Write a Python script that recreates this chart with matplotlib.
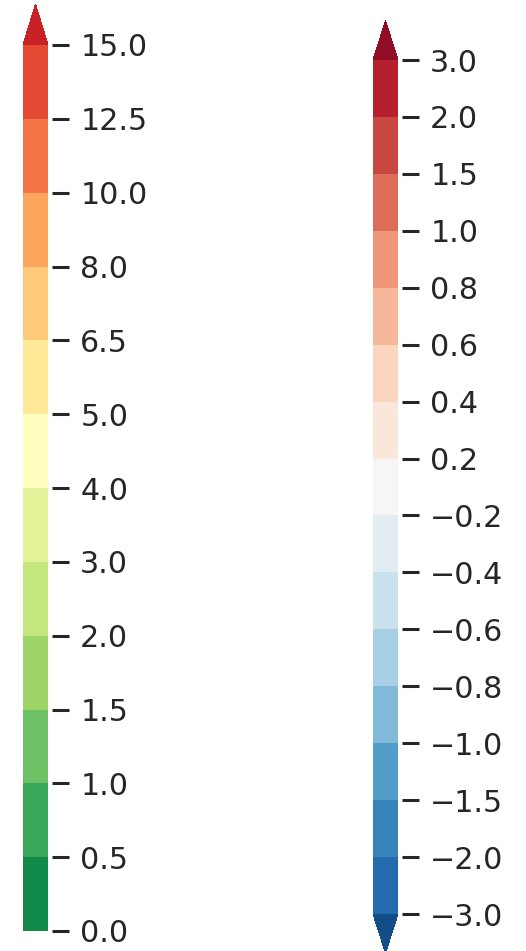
import matplotlib
matplotlib.use("Agg")
import matplotlib.pyplot as plt
import matplotlib as mpl
import seaborn as sns
from matplotlib.colors import ListedColormap, BoundaryNorm

sns.set_theme(style="white")
plt.rcParams["font.family"] = ["DejaVu Sans"]

# ── data ─────────────────────────────────────────────
left_bounds = [0.0, 0.5, 1.0, 1.5, 2.0, 3.0, 4.0, 5.0, 6.5, 8.0, 10.0, 12.5, 15.0]
left_labels = ["0.0", "0.5", "1.0", "1.5", "2.0", "3.0", "4.0", "5.0",
               "6.5", "8.0", "10.0", "12.5", "15.0"]
right_bounds = [-3.0, -2.0, -1.5, -1.0, -0.8, -0.6, -0.4, -0.2,
                0.2, 0.4, 0.6, 0.8, 1.0, 1.5, 2.0, 3.0]
right_labels = ["\u22123.0", "\u22122.0", "\u22121.5", "\u22121.0", "\u22120.8",
                "\u22120.6", "\u22120.4", "\u22120.2", "0.2", "0.4", "0.6", "0.8",
                "1.0", "1.5", "2.0", "3.0"]

W, H = 526, 951
fig = plt.figure(figsize=(W / 100, H / 100), dpi=100)
fig.patch.set_facecolor("white")

TXT = "#262626"
EXT = 0.046          # 三角延伸长度（相对内部长度）
GAP_PT = 4 * 0.72    # 色条与刻度之间的空隙（4px）


def px_axes(x0, x1, y_top, y_bot):
    """像素坐标 → figure 坐标（y 从顶部量起）。"""
    return [x0 / W, 1 - y_bot / H, (x1 - x0) / W, (y_bot - y_top) / H]


def finish(cb, labels):
    cb.outline.set_visible(False)
    cb.set_ticklabels(labels)
    cb.ax.spines["right"].set_position(("outward", GAP_PT))
    cb.ax.tick_params(axis="y", length=12, width=2.2, color=TXT,
                      labelsize=21.7, labelcolor=TXT, pad=8.3)


# 左：RdYlGn_r，只向上延伸
pal_l = sns.color_palette("RdYlGn_r", len(left_bounds))
cmap_l = ListedColormap(pal_l[:-1])
cmap_l.set_over(pal_l[-1])
norm_l = BoundaryNorm(left_bounds, cmap_l.N)
inner = 931 - 45
cax_l = fig.add_axes(px_axes(23, 48, 45 - inner * EXT, 931))
cb_l = fig.colorbar(mpl.cm.ScalarMappable(norm=norm_l, cmap=cmap_l), cax=cax_l,
                    extend="max", extendfrac=EXT, ticks=left_bounds)
finish(cb_l, left_labels)

# 右：RdBu_r，两端延伸
pal_r = sns.color_palette("RdBu_r", len(right_bounds) + 1)
cmap_r = ListedColormap(pal_r[1:-1])
cmap_r.set_under(pal_r[0])
cmap_r.set_over(pal_r[-1])
norm_r = BoundaryNorm(right_bounds, cmap_r.N)
inner = 914 - 60
cax_r = fig.add_axes(px_axes(373, 398, 60 - inner * EXT, 914 + inner * EXT))
cb_r = fig.colorbar(mpl.cm.ScalarMappable(norm=norm_r, cmap=cmap_r), cax=cax_r,
                    extend="both", extendfrac=EXT, ticks=right_bounds)
finish(cb_r, right_labels)

fig.savefig("out.png", dpi=100, facecolor="white")
plt.close(fig)
